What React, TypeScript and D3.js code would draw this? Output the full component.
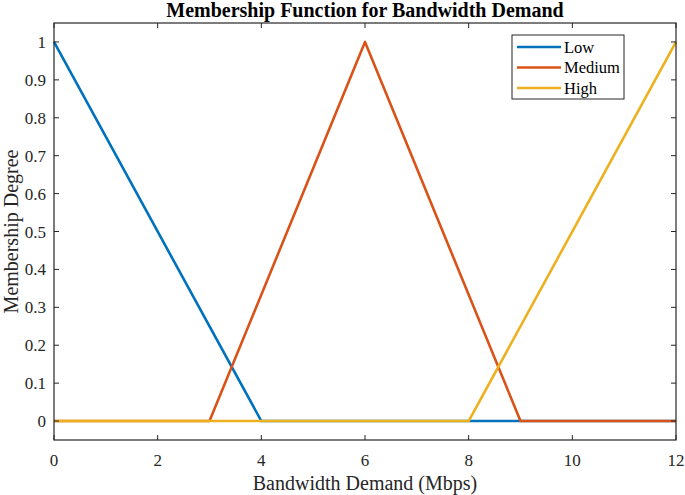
import React from "react";
import * as d3 from "d3";

const lowX = [0, 4, 12];
const lowY = [1, 0, 0];
const medX = [0, 3, 6, 9, 12];
const medY = [0, 0, 1, 0, 0];
const highX = [0, 8, 12];
const highY = [0, 0, 1];
const seriesNames = ["Low", "Medium", "High"];
const seriesColors = ["#0072BD", "#D95319", "#EDB120"];
const xTicks = [0, 2, 4, 6, 8, 10, 12];
const yTicks = [0, 0.1, 0.2, 0.3, 0.4, 0.5, 0.6, 0.7, 0.8, 0.9, 1];

export default function App() {
  const W = 685, H = 495;
  const L = 54, R = 676, T = 23, B = 440;
  const x = d3.scaleLinear().domain([0, 12]).range([L, R]);
  const y = d3.scaleLinear().domain([-0.05, 1.05]).range([B, T]);
  const line = d3.line<[number, number]>().x(d => x(d[0])).y(d => y(d[1]));
  const series = [
    { name: seriesNames[0], color: seriesColors[0], pts: lowX.map((v, i) => [v, lowY[i]] as [number, number]) },
    { name: seriesNames[1], color: seriesColors[1], pts: medX.map((v, i) => [v, medY[i]] as [number, number]) },
    { name: seriesNames[2], color: seriesColors[2], pts: highX.map((v, i) => [v, highY[i]] as [number, number]) },
  ];
  const font = "'Liberation Serif', 'Times New Roman', serif";
  const tk = 5;
  const axisColor = "#262626";
  return (
    <svg width={W} height={H} style={{ position: "absolute", left: 0, top: 0, background: "#fff" }} fontFamily={font}>
      <rect x={0} y={0} width={W} height={H} fill="#fff" />
      {series.map(s => (
        <path key={s.name} d={line(s.pts) || ""} fill="none" stroke={s.color} strokeWidth={2.6} strokeLinejoin="round" />
      ))}
      <rect x={L} y={T} width={R - L} height={B - T} fill="none" stroke={axisColor} strokeWidth={1.2} />
      {xTicks.map(t => (
        <g key={"x" + t}>
          <line x1={x(t)} x2={x(t)} y1={B} y2={B - tk} stroke={axisColor} strokeWidth={1} />
          <line x1={x(t)} x2={x(t)} y1={T} y2={T + tk} stroke={axisColor} strokeWidth={1} />
          <text x={x(t)} y={466} textAnchor="middle" fontSize={17} fill={axisColor}>{t}</text>
        </g>
      ))}
      {yTicks.map(t => (
        <g key={"y" + t}>
          <line x1={L} x2={L + tk} y1={y(t)} y2={y(t)} stroke={axisColor} strokeWidth={1} />
          <line x1={R} x2={R - tk} y1={y(t)} y2={y(t)} stroke={axisColor} strokeWidth={1} />
          <text x={46} y={y(t) + 6} textAnchor="end" fontSize={17} fill={axisColor}>{t}</text>
        </g>
      ))}
      <text x={(L + R) / 2} y={16.5} textAnchor="middle" fontSize={20} fontWeight="bold" fill="#000">Membership Function for Bandwidth Demand</text>
      <text x={(L + R) / 2} y={490} textAnchor="middle" fontSize={20} fill={axisColor}>Bandwidth Demand (Mbps)</text>
      <text transform={`translate(18, ${(T + B) / 2}) rotate(-90)`} textAnchor="middle" fontSize={20} fill={axisColor}>Membership Degree</text>
      <g>
        <rect x={512} y={35} width={112} height={64} fill="#fff" stroke={axisColor} strokeWidth={1} />
        {series.map((s, i) => (
          <g key={"lg" + s.name}>
            <line x1={517} x2={561} y1={47 + i * 20.5} y2={47 + i * 20.5} stroke={s.color} strokeWidth={2.6} />
            <text x={564} y={52.5 + i * 20.5} fontSize={16.5} fill="#000">{s.name}</text>
          </g>
        ))}
      </g>
    </svg>
  );
}
